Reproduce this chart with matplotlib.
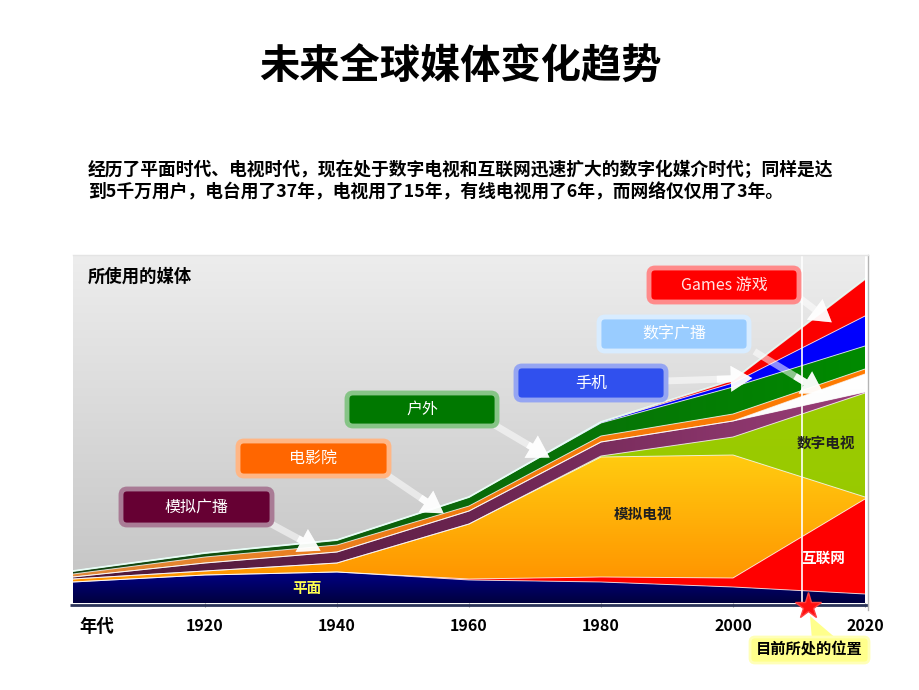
import numpy as np
import matplotlib
matplotlib.use('Agg')
import matplotlib.pyplot as plt
from matplotlib.patches import Polygon, FancyBboxPatch, FancyArrowPatch
from matplotlib.colors import LinearSegmentedColormap

plt.rcParams['font.family'] = ['Noto Sans CJK SC', 'DejaVu Sans']

# ---------------- data (stacked layer thicknesses, arbitrary units) ----------------
years = [1900, 1920, 1940, 1960, 1980, 2000, 2020]
print_media   = [21, 28, 31, 23, 21, 16, 9]      # 平面
internet      = [0, 0, 0, 1, 5, 9, 95]           # 互联网
analog_tv     = [3, 4, 9, 55, 120, 123, 2]       # 模拟电视
digital_tv    = [0, 0, 0, 0, 1, 18, 104]         # 数字电视
analog_radio  = [2, 8, 11, 13, 14, 16, 1]        # 模拟广播
digital_radio = [0, 0, 0, 0, 0, 0, 18]           # 数字广播
cinema        = [3, 6, 7, 5, 6, 7, 5]            # 电影院
outdoor       = [3, 4, 5, 9, 13, 27, 23]         # 户外
mobile        = [0, 0, 0, 0, 1, 4, 30]           # 手机
games         = [0, 0, 0, 0, 0, 3, 37]           # Games 游戏

tick_years = [1920, 1940, 1960, 1980, 2000, 2020]
tick_labels = ['1920', '1940', '1960', '1980', '2000', '2020']
current_year = 2010.5

title = '未来全球媒体变化趋势'
subtitle1 = '经历了平面时代、电视时代，现在处于数字电视和互联网迅速扩大的数字化媒介时代；同样是达'
subtitle2 = '到5千万用户，电台用了37年，电视用了15年，有线电视用了6年，而网络仅仅用了3年。'

# ---------------- figure ----------------
W, H = 920, 690
fig = plt.figure(figsize=(W / 100, H / 100), dpi=100)
fig.patch.set_facecolor('white')

# main chart axes (pixel frame: x 73..865, y 255..603)
ax = fig.add_axes([73 / W, (H - 603) / H, (865 - 73) / W, (603 - 255) / H])
ax.set_zorder(1)
YMAX = 348

x = np.array(years, dtype=float)


def grad_layer(lo, hi, colors, z, horizontal=False):
    verts = np.column_stack([np.r_[x, x[::-1]], np.r_[hi, lo[::-1]]])
    poly = Polygon(verts, closed=True, fc='none', ec='none', transform=ax.transData)
    ax.add_patch(poly)
    cmap = LinearSegmentedColormap.from_list('g', colors)
    if horizontal:
        g = np.linspace(0, 1, 256).reshape(1, -1)
    else:
        g = np.linspace(0, 1, 256).reshape(-1, 1)
    ext = [x.min(), x.max(), float(np.min(lo)), float(np.max(hi)) + 1e-6]
    im = ax.imshow(g, extent=ext, origin='lower', aspect='auto', cmap=cmap,
                   zorder=z, interpolation='bilinear')
    im.set_clip_path(poly)


# panel background gradient
bg = np.linspace(0, 1, 256).reshape(-1, 1)
ax.imshow(bg, extent=[1900, 2020, 0, YMAX], origin='lower', aspect='auto',
          cmap=LinearSegmentedColormap.from_list('bg', ['#C3C3C3', '#D8D8D8', '#EDEDED']),
          zorder=0)

layers = [
    (print_media,   ['#00003E', '#000088'], False),
    (internet,      ['#FF0000', '#FF0000'], False),
    (analog_tv,     ['#FF9400', '#FFCC10'], False),
    (digital_tv,    ['#95C800', '#9CCC00'], False),
    (analog_radio,  ['#4E1838', '#6A2450', '#9A3E78'], True),
    (digital_radio, ['#F2F2F2', '#FFFFFF'], False),
    (cinema,        ['#E0883A', '#F07A10', '#FF7A00'], True),
    (outdoor,       ['#143F10', '#0A6A0A', '#008A00'], True),
    (mobile,        ['#0000F0', '#0000FF'], False),
    (games,         ['#F00000', '#FF0000'], False),
]

base = np.zeros(len(years))
tops = []
for i, (vals, cols, horiz) in enumerate(layers):
    top = base + np.array(vals, dtype=float)
    grad_layer(base, top, cols, 2 + i * 0.1, horizontal=horiz)
    tops.append(top)
    base = top

for t in tops[:-1]:
    ax.plot(x, t, color='white', lw=0.7, alpha=0.75, zorder=3)
ax.plot(x, tops[-1], color='#E8FFF8', lw=1.3, alpha=0.9, zorder=3)

ax.axvline(current_year, color='white', lw=1.2, zorder=4)

ax.set_xlim(1900, 2020)
ax.set_ylim(0, YMAX)
ax.set_yticks([])
ax.set_xticks(tick_years)
ax.set_xticklabels(tick_labels, fontsize=11.5, fontweight='bold')
ax.tick_params(axis='x', length=3, color='#999999', pad=8)
for s in ax.spines.values():
    s.set_visible(False)

# ---------------- overlay (pixel coords) ----------------
ov = fig.add_axes([0, 0, 1, 1])
ov.set_zorder(2)
ov.set_xlim(0, W)
ov.set_ylim(H, 0)
ov.axis('off')
ov.patch.set_alpha(0)

# frame lines
ov.plot([70, 868], [604.5, 604.5], color='#2A3358', lw=2, solid_capstyle='butt')
ov.plot([868, 868], [255, 610], color='#B4B4B4', lw=1)
ov.plot([73, 868], [255, 255], color='#E4E4E4', lw=1)

# title & subtitle
ov.text(460, 67, title, fontsize=29, fontweight='bold', ha='center', va='center')
ov.text(88, 170, subtitle1, fontsize=12.8, fontweight='bold', ha='left', va='center')
ov.text(88, 192, subtitle2, fontsize=12.8, fontweight='bold', ha='left', va='center')
ov.text(88, 277, '所使用的媒体', fontsize=12.5, fontweight='bold', ha='left', va='center')
ov.text(97, 627, '年代', fontsize=12.5, fontweight='bold', ha='center', va='center')

# in-chart labels
ov.text(307, 588, '平面', fontsize=10.5, fontweight='bold', color='#FFFF50', ha='center', va='center')
ov.text(643, 514, '模拟电视', fontsize=10.5, fontweight='bold', color='#202020', ha='center', va='center')
ov.text(826, 443, '数字电视', fontsize=10.5, fontweight='bold', color='#202020', ha='center', va='center')
ov.text(823, 558, '互联网', fontsize=10.5, fontweight='bold', color='white', ha='center', va='center')

# arrows (drawn below boxes): faded tail + solid head part
arrows = [((262, 519), (323, 552)),
          ((384, 473), (446, 515)),
          ((493, 424), (552, 459)),
          ((664, 381), (755, 378)),
          ((752, 350), (826, 395)),
          ((797, 296), (834, 324))]
for (p0, p1) in arrows:
    ar = FancyArrowPatch(p0, p1, arrowstyle='simple,head_width=1.7,head_length=1.4,tail_width=0.45',
                         mutation_scale=11, color='white', alpha=0.55, lw=0,
                         transform=ov.transData, zorder=3)
    ov.add_patch(ar)
    mid = (p0[0] + 0.55 * (p1[0] - p0[0]), p0[1] + 0.55 * (p1[1] - p0[1]))
    ar2 = FancyArrowPatch(mid, p1, arrowstyle='simple,head_width=1.7,head_length=1.4,tail_width=0.45',
                          mutation_scale=11, color='white', alpha=0.9, lw=0,
                          transform=ov.transData, zorder=3)
    ov.add_patch(ar2)

# callout boxes
boxes = [
    ('模拟广播', 121, 489, 151, 36, '#660033', '#A97B95', 'white'),
    ('电影院', 238, 441, 151, 35, '#FF6600', '#FFB685', 'white'),
    ('户外', 347, 393, 150, 33, '#007800', '#86C486', 'white'),
    ('手机', 516, 366, 150, 34, '#3050EE', '#95A5F2', 'white'),
    ('数字广播', 599, 317, 150, 34, '#99CCFF', '#D8ECFF', 'white'),
    ('Games 游戏', 649, 268, 150, 34, '#FF0000', '#FF8A8A', '#FFE4E4'),
]
for (txt, bx, by, bw, bh, fc, ec, tc) in boxes:
    p = FancyBboxPatch((bx, by), bw, bh, boxstyle='round,pad=0,rounding_size=6',
                       fc=fc, ec=ec, lw=3.5, transform=ov.transData, zorder=4)
    ov.add_patch(p)
    ov.text(bx + bw / 2, by + bh / 2, txt, fontsize=11.5, color=tc, ha='center', va='center', zorder=5)

# current position marker
ov.plot([808], [606], marker='*', ms=20, color='#FF1010', mec='#FF4040', zorder=6)
ov.add_patch(Polygon([(810, 616), (812, 640), (838, 640)], closed=True,
                     fc='#FFFF8C', ec='none', zorder=5))
ov.add_patch(FancyBboxPatch((750, 637), 119, 26, boxstyle='round,pad=0,rounding_size=5',
                            fc='#FFFF8C', ec='#FFFFB8', lw=2, zorder=5))
ov.text(809.5, 650, '目前所处的位置', fontsize=11, fontweight='bold', ha='center', va='center', zorder=6)

fig.savefig('out.png', dpi=100)
